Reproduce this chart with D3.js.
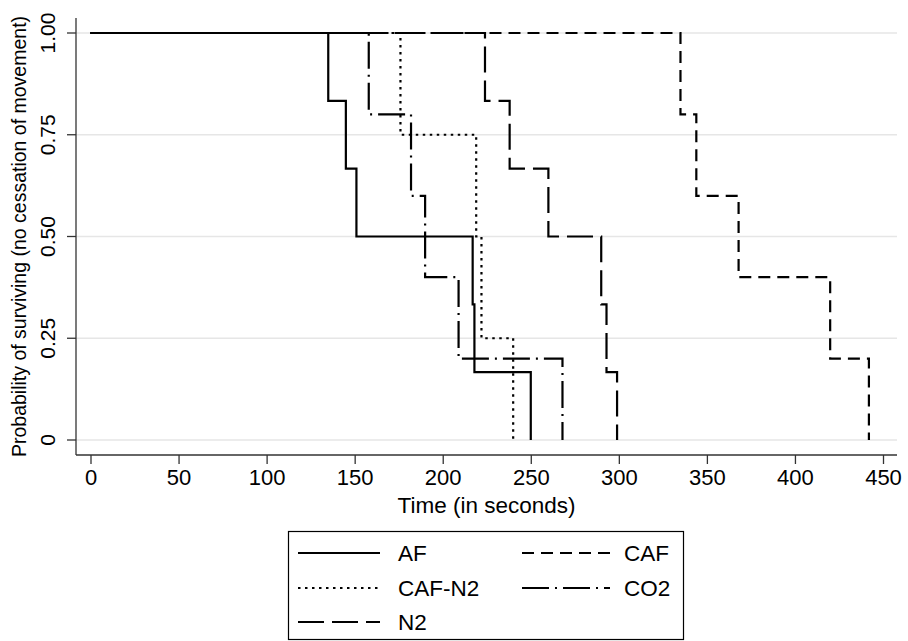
<!DOCTYPE html>
<html>
<head>
<meta charset="utf-8">
<script src="https://cdn.jsdelivr.net/npm/d3@7"></script>
<style>
  body { margin: 0; background: #fff; }
  svg { display: block; font-family: "Liberation Sans", Arial, sans-serif; }
</style>
</head>
<body>
<svg></svg>
<script>
// Kaplan-Meier step data
const afTime = [0, 135, 145, 151, 217, 218, 250];
const afSurv = [1, 0.833, 0.667, 0.5, 0.333, 0.167, 0];

const cafTime = [0, 335, 344, 368, 420, 442];
const cafSurv = [1, 0.8, 0.6, 0.4, 0.2, 0];

const cafn2Time = [0, 176, 219, 222, 240];
const cafn2Surv = [1, 0.75, 0.5, 0.25, 0];

const co2Time = [0, 158, 182, 190, 209, 268];
const co2Surv = [1, 0.8, 0.6, 0.4, 0.2, 0];

const n2Time = [0, 224, 238, 260, 290, 293, 299];
const n2Surv = [1, 0.833, 0.667, 0.5, 0.333, 0.167, 0];

const xTicks = [0, 50, 100, 150, 200, 250, 300, 350, 400, 450];
const yTicks = [0, 0.25, 0.5, 0.75, 1];
const yTickLabels = ['0', '0.25', '0.50', '0.75', '1.00'];

const series = [
  {name: 'AF', t: afTime, s: afSurv, dash: null},
  {name: 'CAF', t: cafTime, s: cafSurv, dash: '12,7'},
  {name: 'CAF-N2', t: cafn2Time, s: cafn2Surv, dash: '2.5,4.5'},
  {name: 'CO2', t: co2Time, s: co2Surv, dash: '27,6,2,6'},
  {name: 'N2', t: n2Time, s: n2Surv, dash: '26,8'}
];

const W = 908, H = 641;
const svg = d3.select('svg').attr('width', W).attr('height', H);

const pLeft = 76, pRight = 897, pTop = 18, pBottom = 455;
const x = d3.scaleLinear().domain([0, 450]).range([90.5, 883]);
const y = d3.scaleLinear().domain([0, 1]).range([440, 33]);

// grid
svg.append('g').selectAll('line').data(yTicks)
  .enter().append('line')
  .attr('x1', pLeft).attr('x2', pRight)
  .attr('y1', d => y(d)).attr('y2', d => y(d))
  .attr('stroke', '#e6e6e6')
  .attr('stroke-width', 1.6);

// x axis
const xAxis = svg.append('g')
  .attr('transform', `translate(0,${pBottom})`)
  .call(d3.axisBottom(x).tickValues(xTicks).tickSize(9).tickPadding(5).tickFormat(d3.format('d')));
xAxis.select('.domain').remove();
xAxis.selectAll('line').attr('stroke', '#333').attr('stroke-width', 1.3);
xAxis.selectAll('text').attr('font-size', '22px').attr('fill', '#000')
  .attr('font-family', '"Liberation Sans", Arial, sans-serif');
svg.append('line')
  .attr('x1', pLeft).attr('x2', pRight).attr('y1', pBottom).attr('y2', pBottom)
  .attr('stroke', '#333').attr('stroke-width', 1.3);

// y axis
const yAxis = svg.append('g').attr('transform', `translate(${pLeft},0)`);
yAxis.selectAll('line').data(yTicks)
  .enter().append('line')
  .attr('x1', -9).attr('x2', 0)
  .attr('y1', d => y(d)).attr('y2', d => y(d))
  .attr('stroke', '#333').attr('stroke-width', 1.3);
yAxis.selectAll('text').data(yTicks)
  .enter().append('text')
  .attr('transform', d => `translate(-21,${y(d)}) rotate(-90)`)
  .attr('text-anchor', 'middle')
  .attr('font-size', '21px')
  .text((d, i) => yTickLabels[i]);
svg.append('line')
  .attr('x1', pLeft).attr('x2', pLeft).attr('y1', pTop).attr('y2', pBottom)
  .attr('stroke', '#333').attr('stroke-width', 1.3);

// titles
svg.append('text')
  .attr('x', (pLeft + pRight) / 2).attr('y', 513)
  .attr('text-anchor', 'middle').attr('font-size', '22.5px')
  .text('Time (in seconds)');
svg.append('text')
  .attr('transform', `translate(26,${(pTop + pBottom) / 2}) rotate(-90)`)
  .attr('text-anchor', 'middle').attr('font-size', '19.5px')
  .text('Probability of surviving (no cessation of movement)');

// curves
const line = d3.line()
  .x(d => x(d[0]))
  .y(d => y(d[1]))
  .curve(d3.curveStepAfter);

svg.append('g').selectAll('path').data(series)
  .enter().append('path')
  .attr('d', d => line(d.t.map((t, i) => [t, d.s[i]])))
  .attr('fill', 'none')
  .attr('stroke', '#000')
  .attr('stroke-width', 2.2)
  .attr('stroke-dasharray', d => d.dash);

// legend
const legend = svg.append('g');
legend.append('rect')
  .attr('x', 288.5).attr('y', 531.5).attr('width', 395).attr('height', 108)
  .attr('fill', '#fff').attr('stroke', '#000').attr('stroke-width', 1.2);

const legPos = [
  {lx: 298, lx2: 380, tx: 398, cy: 553},
  {lx: 522, lx2: 610, tx: 624, cy: 553},
  {lx: 298, lx2: 380, tx: 398, cy: 588},
  {lx: 522, lx2: 610, tx: 624, cy: 588},
  {lx: 298, lx2: 380, tx: 398, cy: 622}
];
const items = legend.selectAll('g.item').data(series)
  .enter().append('g').attr('class', 'item');
items.append('line')
  .attr('x1', (d, i) => legPos[i].lx).attr('x2', (d, i) => legPos[i].lx2)
  .attr('y1', (d, i) => legPos[i].cy).attr('y2', (d, i) => legPos[i].cy)
  .attr('stroke', '#000').attr('stroke-width', 2.2)
  .attr('stroke-dasharray', d => d.dash);
items.append('text')
  .attr('x', (d, i) => legPos[i].tx).attr('y', (d, i) => legPos[i].cy + 8)
  .attr('font-size', '22.5px')
  .text(d => d.name);
</script>
</body>
</html>
